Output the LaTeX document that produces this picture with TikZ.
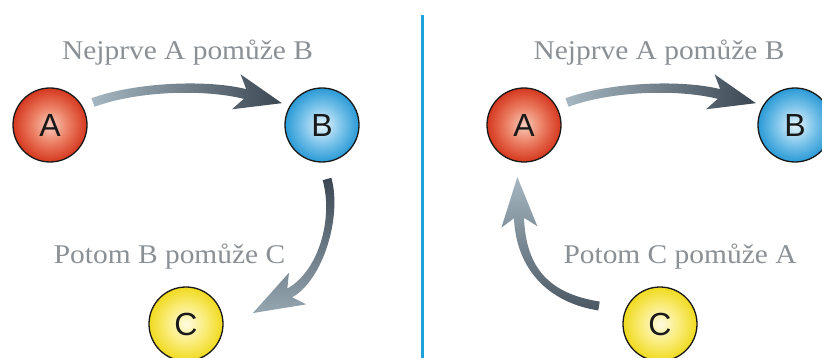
\documentclass[tikz,border=0pt]{standalone}
\usepackage{fontspec}
\usetikzlibrary{calc}
\newfontfamily\lblfont[FakeStretch=1.09]{Liberation Serif}
\newfontfamily\ballfont{Liberation Sans}
\definecolor{Acen}{HTML}{F8CABA}
\definecolor{Amid}{HTML}{EA7A5E}
\definecolor{Aedge}{HTML}{D5381F}
\definecolor{Bcen}{HTML}{E6F4FC}
\definecolor{Bmid}{HTML}{7CC4EA}
\definecolor{Bedge}{HTML}{2A9AD6}
\definecolor{Ccen}{HTML}{FFFBE0}
\definecolor{Cmid}{HTML}{FAEC7A}
\definecolor{Cedge}{HTML}{F0DA1E}
\definecolor{arrdark}{HTML}{3B4752}
\definecolor{arrlight}{HTML}{A6B7C2}
\definecolor{lblgray}{HTML}{8B9095}
\definecolor{divblue}{HTML}{1EA2DA}
\pgfdeclareradialshading{ballA}{\pgfpoint{0bp}{0bp}}{color(0bp)=(Acen); color(13bp)=(Amid); color(25bp)=(Aedge); color(50bp)=(Aedge)}
\pgfdeclareradialshading{ballB}{\pgfpoint{0bp}{0bp}}{color(0bp)=(Bcen); color(13bp)=(Bmid); color(25bp)=(Bedge); color(50bp)=(Bedge)}
\pgfdeclareradialshading{ballC}{\pgfpoint{0bp}{0bp}}{color(0bp)=(Ccen); color(13bp)=(Cmid); color(25bp)=(Cedge); color(50bp)=(Cedge)}
\newcommand{\gradarrow}[6]{%
  \path #1 coordinate (p0) #2 coordinate (p1) #3 coordinate (p2) #4 coordinate (p3);
  \path ($(p0)!4.5pt!90:(p1)$) coordinate (l0)
        ($(p0)!4.5pt!-90:(p1)$) coordinate (r0)
        ($(p3)!5pt!-90:(p2)$) coordinate (l3)
        ($(p3)!5pt!90:(p2)$) coordinate (r3)
        ($(p3)!9pt!(p2)$) coordinate (bk)
        ($(p3)!-#5!(p2)$) coordinate (tip);
  \path ($(p1)+(l0)-(p0)$) coordinate (cl1)
        ($(p2)+(l3)-(p3)$) coordinate (cl2)
        ($(p1)+(r0)-(p0)$) coordinate (cr1)
        ($(p2)+(r3)-(p3)$) coordinate (cr2)
        ($(bk)!18pt!90:(p3)$) coordinate (wl)
        ($(bk)!18pt!-90:(p3)$) coordinate (wr);
  \shade[#6] (r0) -- (l0) .. controls (cl1) and (cl2) .. (l3) -- (wl) -- (tip)
     -- (wr) -- (r3) .. controls (cr2) and (cr1) .. (r0) -- cycle;
}
\tikzset{
  ball/.style={circle, shade, draw=black!90, line width=1.3pt, minimum size=74pt,
    inner sep=0pt, font=\ballfont\fontsize{32}{36}\selectfont, text=black!90},
  lbl/.style={font=\lblfont\fontsize{27}{32}\selectfont, text=lblgray, anchor=base, inner sep=0pt},
  divider/.style={draw=divblue, line width=3pt}
}
\begin{document}
\begin{tikzpicture}[x=1pt,y=-1pt]
\useasboundingbox (0,0) rectangle (822,358);
\fill[white] (0,0) rectangle (822,358);
% divider
\coordinate (dtop) at (422.5,15);
\coordinate (dbot) at (422.5,360);
\draw[divider] (dtop) -- (dbot);
% left panel
\node[ball, shading=ballA] (A1) at (50,125) {A};
\node[ball, shading=ballB] (B1) at (322,125) {B};
\node[ball, shading=ballC] (C1) at (186,324) {C};
\node[lbl] (t1) at (187.5,60) {Nejprve A pomůže B};
\node[lbl] (t2) at (169.5,264) {Potom B pomůže C};
\gradarrow{($(A1)+(43,-22.5)$)}{($(A1)+(85,-38)$)}{($(A1)+(154,-41.2)$)}{($(A1)+(195,-31)$)}{38pt}{left color=arrlight, right color=arrdark}
\gradarrow{($(B1)+(5,54)$)}{($(B1)+(16,93)$)}{($(B1)+(-1.6,151.1)$)}{($(B1)+(-32.3,167.9)$)}{42pt}{top color=arrdark, bottom color=arrlight!85!arrdark}
% right panel
\node[ball, shading=ballA] (A2) at (524,125) {A};
\node[ball, shading=ballB] (B2) at (795,125) {B};
\node[ball, shading=ballC] (C2) at (660,324) {C};
\node[lbl] (t3) at (659,60) {Nejprve A pomůže B};
\node[lbl] (t4) at (680,264) {Potom C pomůže A};
\gradarrow{($(A2)+(43,-22.5)$)}{($(A2)+(85,-38)$)}{($(A2)+(154,-41.2)$)}{($(A2)+(195,-31)$)}{38pt}{left color=arrlight, right color=arrdark}
\gradarrow{($(C2)+(-61,-18)$)}{($(C2)+(-112,-26)$)}{($(C2)+(-139,-56)$)}{($(C2)+(-141,-106)$)}{41pt}{top color=arrlight, bottom color=arrdark!85!arrlight}
\end{tikzpicture}
\end{document}
